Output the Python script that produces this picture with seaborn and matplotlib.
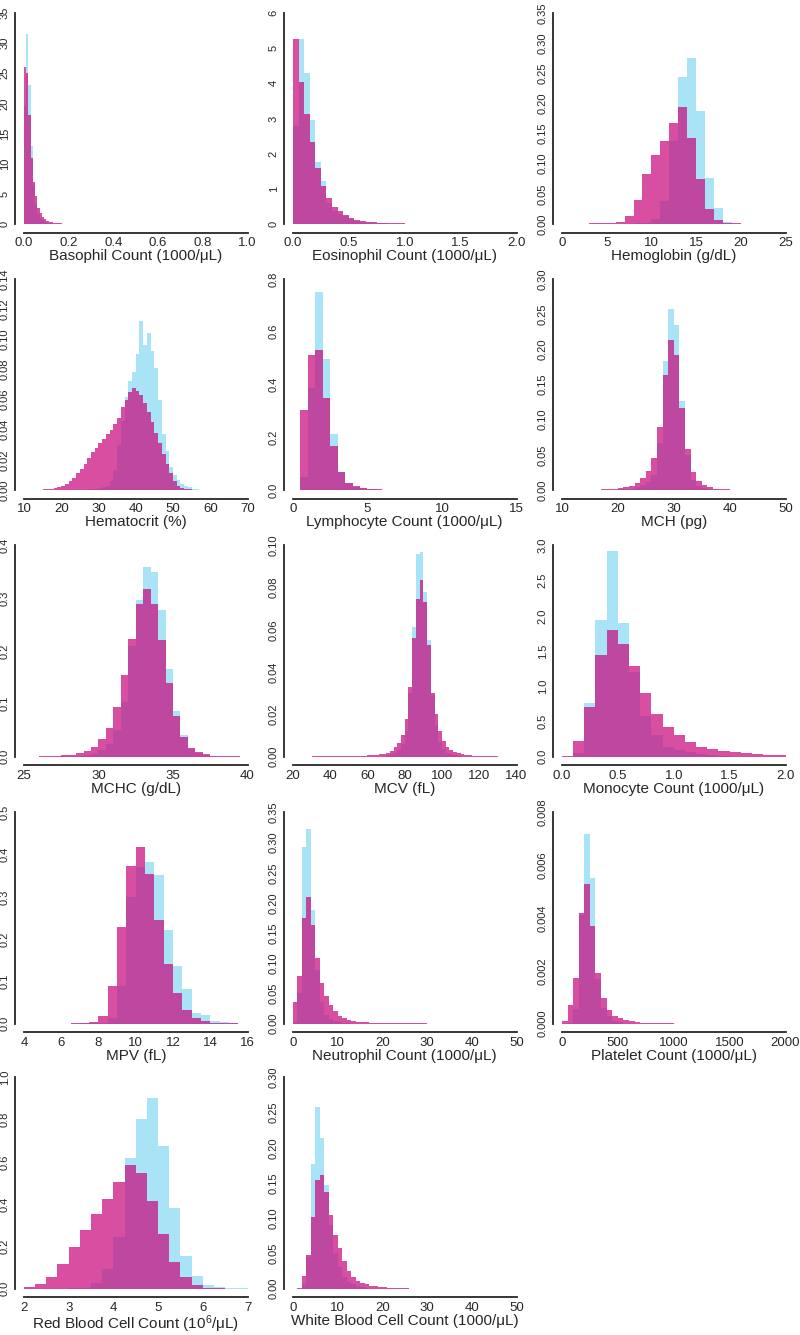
import numpy as np
import pandas as pd
import seaborn as sns
import matplotlib.pyplot as plt

sns.set_style('white')
plt.rcParams['font.family'] = ['Liberation Sans', 'DejaVu Sans']
plt.rcParams['mathtext.fontset'] = 'custom'
plt.rcParams['mathtext.rm'] = 'Liberation Sans'
plt.rcParams['mathtext.default'] = 'regular'

BLUE = '#A8E4F6'
PINK = '#C8057A'

# each panel: first bin edge, bin width, blue heights, pink heights (density per bin)
baso_start, baso_width = 0.0, 0.01
baso_blue = [19.5, 31.5, 23, 13, 6.5, 3.3, 1.8, 1.0, 0.6, 0.4, 0.25, 0.18, 0.12, 0.09, 0.07,
             0.05, 0.04, 0.03, 0.025, 0.02, 0.015, 0.012, 0.01, 0.008, 0.006]
baso_pink = [26, 25, 18, 11, 7, 4.6, 2.7, 1.8, 1.2, 0.8, 0.55, 0.4, 0.3, 0.22, 0.17, 0.13,
             0.11, 0.09, 0.07, 0.06, 0.05, 0.045, 0.04, 0.035, 0.03, 0.025, 0.02, 0.02, 0.018, 0.016]

eos_start, eos_width = 0.0, 0.05
eos_blue = [2.79, 5.25, 4.28, 2.96, 1.75, 1.21, 0.6, 0.36, 0.3, 0.22, 0.14, 0.1, 0.07, 0.05,
            0.04, 0.03, 0.02, 0.015, 0.01, 0.01]
eos_pink = [5.26, 4.05, 3.12, 2.32, 1.58, 1.07, 0.73, 0.49, 0.37, 0.26, 0.18, 0.12, 0.09, 0.07,
            0.05, 0.04, 0.03, 0.025, 0.02, 0.02, 0.015, 0.012, 0.01, 0.01, 0.008, 0.006, 0.005, 0.004]

hgb_start, hgb_width = 3, 1
hgb_blue = [0, 0, 0, 0, 0, 0.001, 0.002, 0.009, 0.039, 0.138, 0.244, 0.275, 0.187, 0.077,
            0.026, 0.003, 0.0005]
hgb_pink = [0.001, 0.001, 0.002, 0.004, 0.013, 0.04, 0.083, 0.115, 0.137, 0.167, 0.194, 0.143,
            0.074, 0.025, 0.006, 0.002, 0.001, 0.0005]

hct_start, hct_width = 15, 1
hct_blue = [0, 0, 0, 0, 0, 0, 0, 0, 0, 0, 0, 0, 0.0005, 0.0008, 0.001, 0.0015, 0.002, 0.003,
            0.006, 0.013, 0.03, 0.046, 0.062, 0.072, 0.078, 0.09, 0.112, 0.096, 0.104, 0.092,
            0.081, 0.06, 0.037, 0.026, 0.015, 0.01, 0.007, 0.004, 0.0026, 0.002, 0.001, 0.0005]
hct_pink = [0.0005, 0.0008, 0.001, 0.0015, 0.002, 0.003, 0.004, 0.006, 0.008, 0.011, 0.014,
            0.017, 0.021, 0.025, 0.028, 0.031, 0.034, 0.037, 0.04, 0.044, 0.048, 0.055, 0.06,
            0.065, 0.068, 0.066, 0.063, 0.058, 0.052, 0.045, 0.038, 0.031, 0.024, 0.017, 0.011,
            0.006, 0.003, 0.0015, 0.001, 0.0005]

lym_start, lym_width = 0.5, 0.5
lym_blue = [0.05, 0.387, 0.752, 0.496, 0.213, 0.068, 0.025, 0.012, 0.006, 0.003, 0.002, 0.001]
lym_pink = [0.305, 0.51, 0.53, 0.35, 0.168, 0.07, 0.028, 0.015, 0.008, 0.005, 0.003, 0.002,
            0.0015, 0.001, 0.001, 0.0008]

mch_start, mch_width = 12, 1
mch_blue = [0, 0, 0, 0, 0, 0, 0, 0.0005, 0.001, 0.0015, 0.002, 0.004, 0.007, 0.012, 0.022,
            0.067, 0.183, 0.258, 0.235, 0.127, 0.05, 0.015, 0.006, 0.003, 0.0015, 0.001, 0.0005]
mch_pink = [0.0003, 0.0003, 0.0004, 0.0005, 0.0006, 0.0008, 0.001, 0.002, 0.003, 0.004, 0.006,
            0.01, 0.017, 0.027, 0.045, 0.09, 0.163, 0.213, 0.192, 0.117, 0.058, 0.026, 0.013,
            0.007, 0.004, 0.002, 0.0015, 0.001, 0.0007, 0.0005, 0.0003]

mchc_start, mchc_width = 26, 0.5
mchc_blue = [0, 0, 0, 0.0003, 0.0007, 0.001, 0.003, 0.005, 0.012, 0.024, 0.051, 0.103, 0.209,
             0.296, 0.359, 0.349, 0.278, 0.165, 0.086, 0.04, 0.015, 0.007, 0.003, 0.001]
mchc_pink = [0.0005, 0.0008, 0.001, 0.002, 0.0025, 0.006, 0.01, 0.019, 0.033, 0.055, 0.094,
             0.155, 0.222, 0.29, 0.318, 0.29, 0.22, 0.139, 0.077, 0.037, 0.017, 0.008, 0.004,
             0.002, 0.001, 0.0008, 0.0005]

mcv_start, mcv_width = 30, 2
mcv_blue = [0, 0, 0, 0, 0, 0, 0, 0, 0, 0, 0, 0, 0, 0, 0, 0, 0, 0, 0, 0, 0.0005, 0.001, 0.0015,
            0.003, 0.0058, 0.0122, 0.03, 0.0615, 0.096, 0.097, 0.078, 0.055, 0.029, 0.015,
            0.007, 0.0035, 0.0018, 0.001, 0.0005, 0.0003]
mcv_pink = [0.0001, 0.0001, 0.0001, 0.0001, 0.0001, 0.0001, 0.0001, 0.0001, 0.0002, 0.0002,
            0.0002, 0.0002, 0.0003, 0.0003, 0.0004, 0.0005, 0.0006, 0.0008, 0.001, 0.0013,
            0.0019, 0.0027, 0.0043, 0.0063, 0.0101, 0.0177, 0.033, 0.056, 0.0747, 0.0837,
            0.0734, 0.0528, 0.03, 0.02, 0.0122, 0.0075, 0.0045, 0.003, 0.002, 0.0015, 0.001,
            0.0008, 0.0006, 0.0005, 0.0004, 0.0003, 0.0002, 0.0002, 0.0001, 0.0001]

mono_start, mono_width = 0.0, 0.1
mono_blue = [0, 0.045, 0.76, 1.94, 2.92, 1.9, 1.2, 0.57, 0.31, 0.14, 0.09, 0.065, 0.03, 0.02, 0.01]
mono_pink = [0.01, 0.22, 0.7, 1.44, 1.8, 1.6, 1.28, 0.9, 0.6, 0.42, 0.31, 0.21, 0.14, 0.105,
             0.075, 0.06, 0.045, 0.03, 0.02, 0.015]

mpv_start, mpv_width = 6.5, 0.5
mpv_blue = [0, 0.0003, 0.0005, 0.001, 0.012, 0.088, 0.3, 0.37, 0.383, 0.352, 0.222, 0.137,
            0.082, 0.026, 0.02, 0.006, 0.003, 0.001]
mpv_pink = [0.0005, 0.001, 0.003, 0.019, 0.088, 0.228, 0.373, 0.417, 0.354, 0.245, 0.142,
            0.072, 0.033, 0.014, 0.006, 0.002, 0.001, 0.0005]

neu_start, neu_width = 0, 1
neu_blue = [0.003, 0.05, 0.292, 0.322, 0.188, 0.088, 0.035, 0.015, 0.008, 0.004, 0.002, 0.001, 0.0005]
neu_pink = [0.035, 0.079, 0.175, 0.21, 0.163, 0.108, 0.068, 0.046, 0.03, 0.02, 0.013, 0.009,
            0.006, 0.0045, 0.003, 0.0025, 0.002, 0.0015, 0.001, 0.001, 0.0008, 0.0007, 0.0006,
            0.0005, 0.0005, 0.0004, 0.0004, 0.0003, 0.0003, 0.0003]

plt_start, plt_width = 0, 50
plt_blue = [0, 0.00002, 0.00055, 0.0041, 0.0072, 0.0055, 0.0017, 0.0006, 0.0003, 0.0001, 0.00005]
plt_pink = [0.0001, 0.0007, 0.00173, 0.0042, 0.0053, 0.0037, 0.0019, 0.00097, 0.00053, 0.0003,
            0.0002, 0.00012, 0.00008, 0.00005, 0.00004, 0.00003, 0.00002, 0.00002, 0.00001, 0.00001]

rbc_start, rbc_width = 2.0, 0.25
rbc_blue = [0, 0, 0, 0, 0.002, 0.004, 0.024, 0.094, 0.242, 0.617, 0.805, 0.901, 0.673, 0.381,
            0.152, 0.059, 0.016, 0.006, 0.002, 0.001]
rbc_pink = [0.008, 0.02, 0.055, 0.115, 0.198, 0.278, 0.351, 0.423, 0.506, 0.587, 0.549, 0.416,
            0.258, 0.126, 0.056, 0.016, 0.003, 0.001]

wbc_start, wbc_width = 1, 1
wbc_blue = [0, 0.007, 0.045, 0.177, 0.258, 0.214, 0.147, 0.09, 0.05, 0.03, 0.017, 0.01, 0.006,
            0.003, 0.002, 0.001]
wbc_pink = [0.001, 0.018, 0.048, 0.102, 0.154, 0.162, 0.137, 0.105, 0.076, 0.057, 0.039, 0.025,
            0.016, 0.011, 0.008, 0.006, 0.004, 0.003, 0.0025, 0.002, 0.0015, 0.001, 0.001,
            0.0008, 0.0006]

labels = ['Basophil Count (1000/μL)', 'Eosinophil Count (1000/μL)', 'Hemoglobin (g/dL)',
          'Hematocrit (%)', 'Lymphocyte Count (1000/μL)', 'MCH (pg)',
          'MCHC (g/dL)', 'MCV (fL)', 'Monocyte Count (1000/μL)',
          'MPV (fL)', 'Neutrophil Count (1000/μL)', 'Platelet Count (1000/μL)',
          'Red Blood Cell Count (10$^{6}$/μL)', 'White Blood Cell Count (1000/μL)']

# (x ticks, x decimals, y ticks, y decimals)
axes_spec = [
    (np.arange(0, 1.01, 0.2), 1, np.arange(0, 36, 5), 0),
    (np.arange(0, 2.01, 0.5), 1, np.arange(0, 7, 1), 0),
    (np.arange(0, 26, 5), 0, np.arange(0, 0.351, 0.05), 2),
    (np.arange(10, 71, 10), 0, np.arange(0, 0.141, 0.02), 2),
    (np.arange(0, 16, 5), 0, np.arange(0, 0.81, 0.2), 1),
    (np.arange(10, 51, 10), 0, np.arange(0, 0.301, 0.05), 2),
    (np.arange(25, 41, 5), 0, np.arange(0, 0.41, 0.1), 1),
    (np.arange(20, 141, 20), 0, np.arange(0, 0.101, 0.02), 2),
    (np.arange(0, 2.01, 0.5), 1, np.arange(0, 3.01, 0.5), 1),
    (np.arange(4, 17, 2), 0, np.arange(0, 0.51, 0.1), 1),
    (np.arange(0, 51, 10), 0, np.arange(0, 0.351, 0.05), 2),
    (np.arange(0, 2001, 500), 0, np.arange(0, 0.0081, 0.002), 3),
    (np.arange(2, 8, 1), 0, np.arange(0, 1.01, 0.2), 1),
    (np.arange(0, 51, 10), 0, np.arange(0, 0.301, 0.05), 2),
]

series = [
    (baso_start, baso_width, baso_blue, baso_pink),
    (eos_start, eos_width, eos_blue, eos_pink),
    (hgb_start, hgb_width, hgb_blue, hgb_pink),
    (hct_start, hct_width, hct_blue, hct_pink),
    (lym_start, lym_width, lym_blue, lym_pink),
    (mch_start, mch_width, mch_blue, mch_pink),
    (mchc_start, mchc_width, mchc_blue, mchc_pink),
    (mcv_start, mcv_width, mcv_blue, mcv_pink),
    (mono_start, mono_width, mono_blue, mono_pink),
    (mpv_start, mpv_width, mpv_blue, mpv_pink),
    (neu_start, neu_width, neu_blue, neu_pink),
    (plt_start, plt_width, plt_blue, plt_pink),
    (rbc_start, rbc_width, rbc_blue, rbc_pink),
    (wbc_start, wbc_width, wbc_blue, wbc_pink),
]

W, H = 800, 1335
fig = plt.figure(figsize=(W / 100, H / 100), dpi=100)
lefts = [15, 284, 553]
tops = [4.5, 270.5, 537, 804, 1069]
aw, ah = 241.5, 228

for i, (label, (start, width, blue, pink), (xt, xd, yt, yd)) in enumerate(zip(labels, series, axes_spec)):
    r, c = divmod(i, 3)
    ax = fig.add_axes([lefts[c] / W, 1 - (tops[r] + ah) / H, aw / W, ah / H])
    for heights, color, alpha in [(blue, BLUE, 1.0), (pink, PINK, 0.7)]:
        heights = np.asarray(heights, dtype=float)
        edges = start + width * np.arange(len(heights) + 1)
        df = pd.DataFrame({'value': edges[:-1] + width / 2, 'density': heights})
        sns.histplot(data=df, x='value', weights='density', bins=edges.tolist(), stat='count',
                     color=color, alpha=alpha, linewidth=0, ax=ax)
    xr = xt[-1] - xt[0]
    yr = yt[-1] - yt[0]
    ax.set_xlim(xt[0] - 0.04 * xr, xt[-1] + 0.04 * xr)
    ax.set_ylim(yt[0] - 0.04 * yr, yt[-1] + 0.04 * yr)
    ax.set_xticks(xt)
    ax.set_xticklabels([f'{v:.{xd}f}' for v in xt])
    ax.set_yticks(yt)
    ax.set_yticklabels([f'{v:.{yd}f}' for v in yt], rotation=90, va='center')
    ax.set_ylabel('')
    ax.set_xlabel(label, fontsize=11, labelpad=0)
    sns.despine(ax=ax, trim=True)
    for s in ['left', 'bottom']:
        ax.spines[s].set_linewidth(1.3)
    ax.tick_params(axis='x', direction='out', length=3.5, width=1.2, pad=0, labelsize=9.5)
    ax.tick_params(axis='y', direction='out', length=3, width=1.2, pad=0.8, labelsize=8)

fig.savefig('out.png', dpi=100)
